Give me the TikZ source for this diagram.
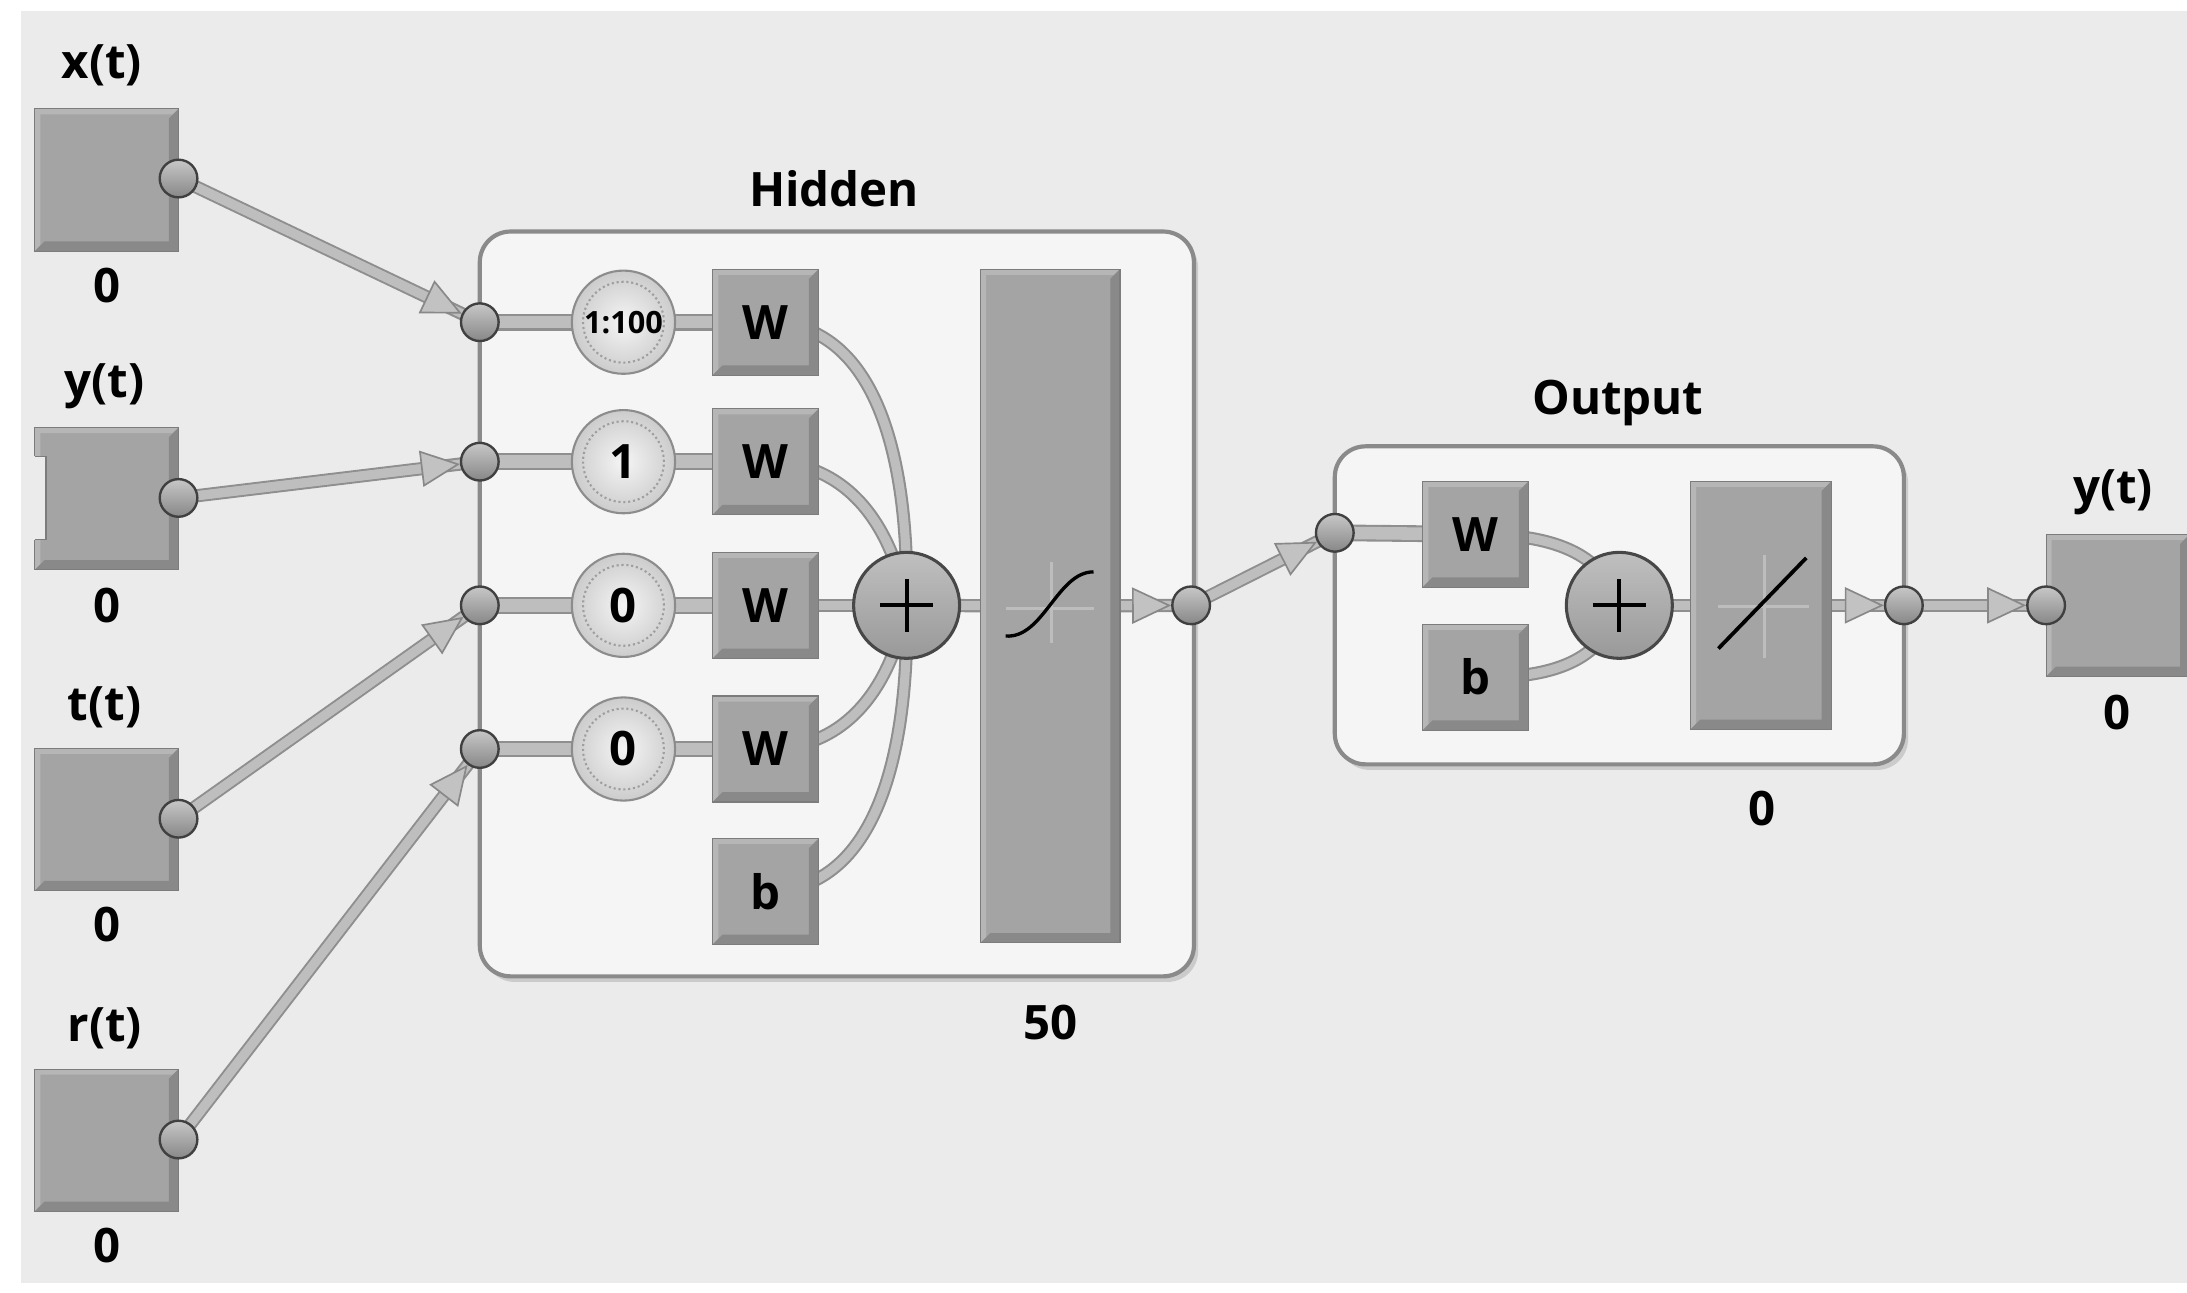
\documentclass[tikz,border=0pt]{standalone}
\usepackage{fontspec}
\setmainfont{Open Sans}
\usetikzlibrary{arrows.meta,calc}
\definecolor{panel}{HTML}{EBEBEB}
\definecolor{boxfill}{HTML}{A4A4A4}
\definecolor{boxhi}{HTML}{B6B6B6}
\definecolor{boxsh}{HTML}{898989}
\definecolor{boxedge}{HTML}{7C7C7C}
\definecolor{contfill}{HTML}{F5F5F5}
\definecolor{contedge}{HTML}{8A8A8A}
\definecolor{contsh}{HTML}{CBCBCB}
\definecolor{pipeL}{HTML}{BEBEBE}
\definecolor{pipeD}{HTML}{8F8F8F}
\definecolor{tipF}{HTML}{C2C2C2}
\definecolor{tipD}{HTML}{888888}
\definecolor{crossc}{HTML}{BDBDBD}
\pgfdeclarelayer{back}
\pgfdeclarelayer{pipes}
\pgfsetlayers{back,pipes,main}
\tikzset{
  lbl/.style={font=\fontsize{34}{40}\selectfont\bfseries, inner sep=0pt},
  bevel/.style={path picture={
    \coordinate (pSW) at (path picture bounding box.south west);
    \coordinate (pNE) at (path picture bounding box.north east);
    \coordinate (pSE) at (path picture bounding box.south east);
    \coordinate (pNW) at (path picture bounding box.north west);
    \fill[boxhi] (pNW) -- (pNE) -- ([shift={(-4pt,-4pt)}]pNE) -- ([shift={(4pt,-4pt)}]pNW) -- ([shift={(4pt,4pt)}]pSW) -- (pSW) -- cycle;
    \fill[boxsh] (pSW) -- (pSE) -- (pNE) -- ([shift={(-7pt,-7pt)}]pNE) -- ([shift={(-7pt,7pt)}]pSE) -- ([shift={(7pt,7pt)}]pSW) -- cycle;
  }},
  blk/.style={rectangle, draw=boxedge, line width=0.8pt, fill=boxfill, inner sep=0pt, bevel,
    font=\fontsize{34}{40}\selectfont\bfseries},
  wbox/.style={blk, minimum width=76pt, minimum height=76pt},
  inbox/.style={blk, minimum width=103pt, minimum height=102pt},
  portc/.style={circle, minimum size=27pt, inner sep=0pt, top color=black!22, bottom color=black!47, draw=black!75, line width=1.7pt},
  delay/.style={circle, minimum size=74pt, inner sep=0pt, shading=radial, inner color=black!4, outer color=black!20,
    draw=black!45, line width=1.5pt, font=\fontsize{34}{40}\selectfont\bfseries,
    path picture={\draw[dotted, black!38, line width=1.5pt] (path picture bounding box.center) circle[radius=29pt];}},
  sumc/.style={circle, minimum size=76pt, inner sep=0pt, top color=black!25, bottom color=black!40, draw=black!72, line width=2.2pt,
    path picture={
      \draw[black, line width=3pt] ([xshift=-19pt]path picture bounding box.center) -- ([xshift=19pt]path picture bounding box.center);
      \draw[black, line width=3pt] ([yshift=-19pt]path picture bounding box.center) -- ([yshift=19pt]path picture bounding box.center);}},
  cont/.style={rectangle, rounded corners=22pt, fill=contfill, draw=contedge, line width=3pt},
  contshadow/.style={rectangle, rounded corners=22pt, fill=contsh},
  pipe/.style={draw=pipeL, line width=6.5pt, preaction={draw=pipeD, line width=9.5pt}},
  wpipe/.style={draw=pipeL, line width=9pt, preaction={draw=pipeD, line width=12pt}},
  tipline/.style={draw=pipeL, line width=6.5pt, -{Triangle[length=28pt,width=26pt,fill=tipF,color=tipD,line width=1.2pt]}},
  cross/.style={draw=crossc, line width=2pt},
}
\begin{document}
\begin{tikzpicture}[x=1pt,y=-1pt]
\useasboundingbox (0,0) rectangle (1568,927);
\begin{pgfonlayer}{back}
  \fill[white] (0,0) rectangle (1568,927);
  \fill[panel] (15,8) rectangle (1568,920);
  \node[contshadow, minimum width=512pt, minimum height=534pt] (hidsh) at (603,437) {};
  \node[cont, minimum width=512pt, minimum height=534pt] (hidbox) at (600,433) {};
  \node[contshadow, minimum width=408pt, minimum height=228pt] (outsh) at (1164,438) {};
  \node[cont, minimum width=408pt, minimum height=228pt] (outbox) at (1161,434) {};
\end{pgfonlayer}

% input blocks
\node[inbox] (inx) at (76.5,129) {};
\node[inbox] (iny) at (76.5,357.5) {};
\node[inbox] (int) at (76.5,587.5) {};
\node[inbox] (inr) at (76.5,817.5) {};
\fill[panel] (24,327) rectangle (33,387);
\draw[boxedge, line width=0.8pt] (25,327) -- (33,327) -- (33,387) -- (25,387);

\node[lbl] (lx) at (73,47) {x(t)};
\node[lbl] (ly) at (75,277) {y(t)};
\node[lbl] (lt) at (75,507) {t(t)};
\node[lbl] (lr) at (75,737) {r(t)};
\node[lbl] (zx) at (77,205) {0};
\node[lbl] (zy) at (77,434) {0};
\node[lbl] (zt) at (77,663) {0};
\node[lbl] (zr) at (77,893) {0};

\node[portc] (px) at (128,128) {};
\node[portc] (py) at (128,357) {};
\node[portc] (pt) at (128,587) {};
\node[portc] (pr) at (128,817) {};

% hidden layer
\node[lbl] (lhid) at (598,135) {Hidden};
\node[lbl] (l50) at (753,733) {50};
\node[portc] (h1) at (344,231) {};
\node[portc] (h2) at (344,331) {};
\node[portc] (h3) at (344,434) {};
\node[portc] (h4) at (344,537) {};
\node[delay, font=\fontsize{22}{26}\selectfont\bfseries] (d1) at (447,231) {1:100};
\node[delay] (d2) at (447,331) {1};
\node[delay] (d3) at (447,434) {0};
\node[delay] (d4) at (447,537) {0};
\node[wbox] (w1) at (549,231) {W};
\node[wbox] (w2) at (549,331) {W};
\node[wbox] (w3) at (549,434) {W};
\node[wbox] (w4) at (549,537) {W};
\node[wbox] (bh) at (549,639) {b};
\node[sumc] (sh) at (650,434) {};
\node[blk, minimum width=100pt, minimum height=483pt] (tf) at (753,434.5) {};
\draw[cross] (721,436) -- (784,436);
\draw[cross] (754,403) -- (754,461);
\draw[black, line width=2.4pt] (721,456) .. controls (748,458) and (758,410) .. (784,410);
\node[portc] (ho) at (854,434) {};

% output layer
\node[lbl] (lout) at (1160,289) {Output};
\node[lbl] (zo) at (1263,580) {0};
\node[portc] (oi) at (957,382) {};
\node[wbox] (wo) at (1058,383) {W};
\node[wbox] (bo) at (1058,485.5) {b};
\node[sumc] (so) at (1161,434) {};
\node[blk, minimum width=101pt, minimum height=178pt] (lin) at (1262.5,434) {};
\draw[cross] (1232,435) -- (1297,435);
\draw[cross] (1265,398) -- (1265,472);
\draw[black, line width=2.7pt] (1232,465) -- (1295,400);
\node[portc] (oo) at (1365,434) {};

% output target
\node[inbox] (yb) at (1518.5,434) {};
\node[portc] (yo) at (1467,434) {};
\node[lbl] (lyo) at (1515,353) {y(t)};
\node[lbl] (zyo) at (1518,511) {0};

\begin{pgfonlayer}{pipes}
  % inputs to hidden
  \draw[pipe] (px.center) -- (h1.center);
  \draw[tipline] (px) -- (h1);
  \draw[pipe] (py.center) -- (h2.center);
  \draw[tipline] (py) -- (h2);
  \draw[pipe] (pt.center) -- (h3.center);
  \draw[tipline] (pt) -- (h3);
  \draw[pipe] (pr.center) -- (h4.center);
  \draw[tipline] (pr) -- (h4);
  % hidden rows
  \draw[wpipe] (h1.center) -- (w1.center);
  \draw[wpipe] (h2.center) -- (w2.center);
  \draw[wpipe] (h3.center) -- (w3.center);
  \draw[wpipe] (h4.center) -- (w4.center);
  \draw[pipe] (w1.center) .. controls (625,231) and (652,320) .. (sh.center);
  \draw[pipe] (w2.center) .. controls (610,331) and (640,380) .. (sh.center);
  \draw[pipe] (w3.center) -- (sh.center);
  \draw[pipe] (w4.center) .. controls (610,537) and (640,488) .. (sh.center);
  \draw[pipe] (bh.center) .. controls (625,639) and (652,548) .. (sh.center);
  \draw[pipe] (sh.center) -- (tf.center);
  \draw[pipe] (tf.center) -- (ho.center);
  \draw[tipline] (tf) -- (ho);
  % hidden to output
  \draw[pipe] (ho.center) -- (oi.center);
  \draw[tipline] (ho) -- (oi);
  \draw[wpipe] (oi.center) -- (wo.center);
  \draw[pipe] (wo.center) .. controls (1120,383) and (1150,400) .. (so.center);
  \draw[pipe] (bo.center) .. controls (1120,487) and (1150,470) .. (so.center);
  \draw[pipe] (so.center) -- (lin.center);
  \draw[pipe] (lin.center) -- (oo.center);
  \draw[tipline] (lin) -- (oo);
  \draw[pipe] (oo.center) -- (yo.center);
  \draw[tipline] (oo) -- (yo);
\end{pgfonlayer}
\end{tikzpicture}
\end{document}
